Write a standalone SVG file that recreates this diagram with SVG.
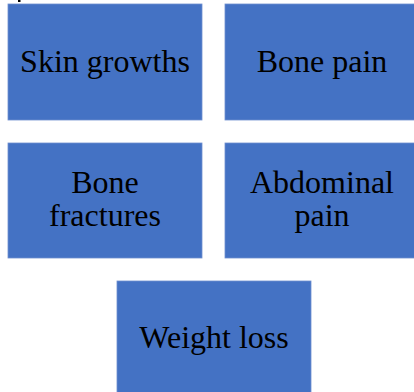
<svg xmlns="http://www.w3.org/2000/svg" width="414" height="392" viewBox="0 0 414 392">
<style>
.box{fill:#4472C4;stroke:#6F8FCF;stroke-width:0.8}
.lbl{font-family:"Liberation Serif","Times New Roman",serif;font-size:32px;fill:#000;text-anchor:middle}
</style>
<rect width="414" height="392" fill="#fff"/>
<rect x="18" y="0" width="2.5" height="2" fill="#000"/>
<g id="connectors"></g>
<g id="skin-growths">
<rect class="box" x="8" y="4" width="194" height="116"/>
<text class="lbl" x="105" y="72">Skin growths</text>
</g>
<g id="bone-pain">
<rect class="box" x="225" y="4" width="194" height="116"/>
<text class="lbl" x="322" y="72">Bone pain</text>
</g>
<g id="bone-fractures">
<rect class="box" x="8" y="143" width="194" height="115"/>
<text class="lbl" x="105" y="193">Bone</text>
<text class="lbl" x="105" y="226">fractures</text>
</g>
<g id="abdominal-pain">
<rect class="box" x="225" y="143" width="194" height="115"/>
<text class="lbl" x="322" y="193">Abdominal</text>
<text class="lbl" x="322" y="226">pain</text>
</g>
<g id="weight-loss">
<rect class="box" x="117" y="281" width="194" height="115"/>
<text class="lbl" x="214" y="348">Weight loss</text>
</g>
</svg>
